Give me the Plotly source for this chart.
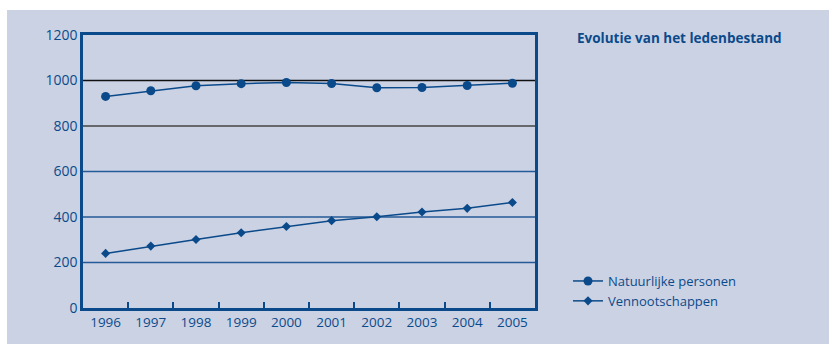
import plotly.graph_objects as go

years = ["1996", "1997", "1998", "1999", "2000", "2001", "2002", "2003", "2004", "2005"]
natuurlijke_personen = [930, 955, 977, 986, 991, 987, 968, 969, 978, 988]
vennootschappen = [240, 272, 301, 331, 358, 384, 401, 422, 438, 464]
y_ticks = [0, 200, 400, 600, 800, 1000, 1200]

BLUE = "#0B4A8A"
PANEL = "#CBD2E4"
FONT = "Open Sans"

fig = go.Figure()
fig.add_trace(go.Scatter(
    x=years, y=natuurlijke_personen, name="Natuurlijke personen",
    mode="lines+markers", line=dict(color=BLUE, width=1.5),
    marker=dict(symbol="circle", size=9, color=BLUE),
))
fig.add_trace(go.Scatter(
    x=years, y=vennootschappen, name="Vennootschappen",
    mode="lines+markers", line=dict(color=BLUE, width=1.5),
    marker=dict(symbol="diamond", size=7, color=BLUE),
))

W, H = 829, 344
L, R, T, B = 83, 294, 35, 36
pw, ph = W - L - R, H - T - B

def px_x(px):
    return (px - L) / pw

def px_y(py):
    return (H - B - py) / ph

shapes = [
    # panel background
    dict(type="rect", xref="paper", yref="paper", x0=px_x(7), x1=px_x(829),
         y0=px_y(344), y1=px_y(10), fillcolor=PANEL, line=dict(width=0), layer="below"),
]
grid_colors = {200: "#245A96", 400: "#245A96", 600: "#245A96", 800: "#444444", 1000: "#111111"}
for v, c in grid_colors.items():
    shapes.append(dict(type="line", xref="paper", yref="y", x0=0, x1=1, y0=v, y1=v,
                       line=dict(color=c, width=1.3), layer="below"))

fig.update_layout(
    width=W, height=H,
    margin=dict(l=L, r=R, t=T, b=B, pad=0),
    paper_bgcolor="white", plot_bgcolor=PANEL,
    font=dict(family=FONT, color=BLUE, size=13),
    shapes=shapes,
    showlegend=True,
    legend=dict(x=px_x(568), y=px_y(266), xanchor="left", yanchor="top",
                bgcolor="rgba(0,0,0,0)", font=dict(size=13, color=BLUE),
                itemwidth=30, tracegroupgap=0),
    annotations=[dict(text="<b>Evolutie van het ledenbestand</b>", xref="paper", yref="paper",
                      x=px_x(575), y=px_y(38), xanchor="left", yanchor="middle",
                      showarrow=False, font=dict(size=13.5, color=BLUE))],
)
fig.update_xaxes(
    type="category", range=[-0.5, 9.5], showgrid=False,
    showline=True, linecolor=BLUE, linewidth=2.5, mirror=True,
    ticks="inside", tickson="boundaries", ticklen=6, tickwidth=1.5, tickcolor=BLUE,
    tickfont=dict(size=13.5, color=BLUE),
)
fig.update_yaxes(
    range=[0, 1200], tickvals=y_ticks, showgrid=False, zeroline=False,
    showline=True, linecolor=BLUE, linewidth=2.5, mirror=True,
    ticks="", tickfont=dict(size=14, color=BLUE),
)

fig.write_html("out.html")
